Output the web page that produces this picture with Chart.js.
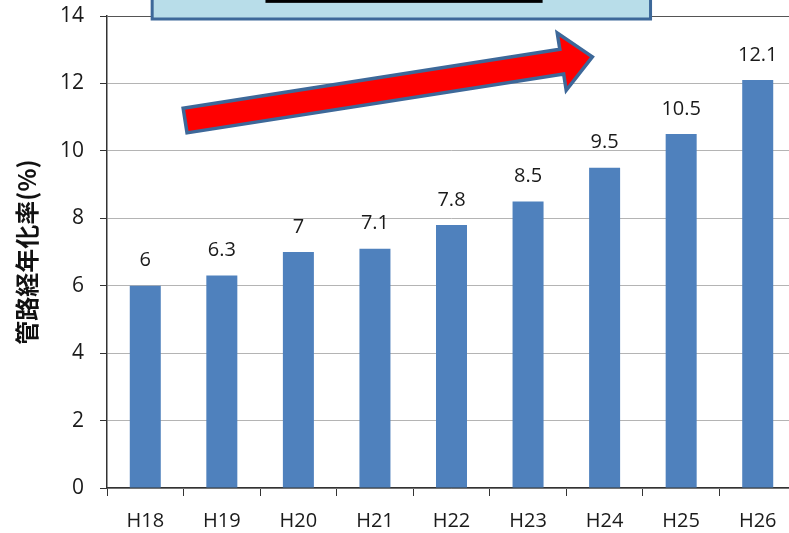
<!DOCTYPE html>
<html><head><meta charset="utf-8">
<script src="https://cdn.jsdelivr.net/npm/chart.js@4"></script>
<style>html,body{margin:0;padding:0;overflow:hidden;background:#fff}
#wrap{position:absolute;left:0;top:0;width:800px;height:533px}</style>
</head><body><div id="wrap"><canvas id="c" width="800" height="533"></canvas></div>
<script>
const categories = ['H18','H19','H20','H21','H22','H23','H24','H25','H26'];
const rates = [6, 6.3, 7, 7.1, 7.8, 8.5, 9.5, 10.5, 12.1];
const rateLabels = ['6','6.3','7','7.1','7.8','8.5','9.5','10.5','12.1'];
const yTickValues = [0, 2, 4, 6, 8, 10, 12, 14];
const yTitle = '管路経年化率(%)';

const TXT = "'Open Sans', 'Noto Sans', sans-serif";

const labelPlugin = {
  id: 'barLabels',
  afterDatasetsDraw(chart) {
    const ctx = chart.ctx;
    const meta = chart.getDatasetMeta(0);
    ctx.save();
    ctx.font = "20px " + TXT;
    ctx.fillStyle = '#1a1a1a';
    ctx.textAlign = 'center';
    ctx.textBaseline = 'middle';
    meta.data.forEach((bar, i) => {
      ctx.fillText(rateLabels[i], bar.x, bar.y - 25);
    });
    ctx.restore();
  }
};

const decoPlugin = {
  id: 'deco',
  afterDraw(chart) {
    const ctx = chart.ctx;
    const xs = chart.scales.x, ys = chart.scales.y;
    ctx.save();
    // cut-off caption box at top
    const bx0 = xs.getPixelForValue(0.09), bx1 = xs.getPixelForValue(6.6);
    const by1 = ys.getPixelForValue(13.91);
    ctx.fillStyle = '#b8dde9';
    ctx.strokeStyle = '#3d6899';
    ctx.lineWidth = 3;
    ctx.beginPath();
    ctx.rect(bx0, -10, bx1 - bx0, by1 + 10);
    ctx.fill(); ctx.stroke();
    ctx.fillStyle = '#000';
    const kx0 = xs.getPixelForValue(1.57), kx1 = xs.getPixelForValue(5.19);
    ctx.fillRect(kx0, -5, kx1 - kx0, ys.getPixelForValue(14.39) + 5);
    // arrow
    const tx = xs.getPixelForValue(0.52), ty = ys.getPixelForValue(10.9);
    const hx = xs.getPixelForValue(5.84), hy = ys.getPixelForValue(12.79);
    const dx = hx - tx, dy = hy - ty, L = Math.hypot(dx, dy);
    const ux = dx / L, uy = dy / L, nx = -uy, ny = ux;
    const sw = 12.5, hw = 29, hl = 31;
    const bxp = hx - ux * hl, byp = hy - uy * hl;
    const pts = [
      [tx + nx * sw, ty + ny * sw],
      [bxp + nx * sw, byp + ny * sw],
      [bxp + nx * hw, byp + ny * hw],
      [hx, hy],
      [bxp - nx * hw, byp - ny * hw],
      [bxp - nx * sw, byp - ny * sw],
      [tx - nx * sw, ty - ny * sw]
    ];
    ctx.beginPath();
    pts.forEach((p, i) => i ? ctx.lineTo(p[0], p[1]) : ctx.moveTo(p[0], p[1]));
    ctx.closePath();
    ctx.fillStyle = '#ff0000';
    ctx.fill();
    ctx.lineJoin = 'miter';
    ctx.lineWidth = 3.5;
    ctx.strokeStyle = '#3d6899';
    ctx.stroke();
    ctx.restore();
  }
};

new Chart(document.getElementById('c'), {
  type: 'bar',
  data: {
    labels: categories,
    datasets: [{
      data: rates,
      backgroundColor: '#4f81bd',
      borderWidth: 0,
      categoryPercentage: 1,
      barPercentage: 0.405
    }]
  },
  options: {
    responsive: false,
    devicePixelRatio: 1,
    animation: false,
    layout: { padding: { left: 0, top: 16, right: 4, bottom: 0 } },
    plugins: { legend: { display: false }, tooltip: { enabled: false } },
    scales: {
      x: {
        grid: { offset: true, drawOnChartArea: false, drawTicks: true, tickLength: 8, color: '#333', tickColor: '#333' },
        border: { color: '#333', width: 1.5 },
        ticks: { color: '#1a1a1a', font: { family: TXT, size: 20 }, padding: 13, maxRotation: 0 },
        afterFit(s) { s.height = 45; s.paddingLeft = 0; s.paddingRight = 0; }
      },
      y: {
        min: 0, max: 14,
        afterBuildTicks(s) { s.ticks = yTickValues.map(v => ({ value: v })); },
        grid: {
          color: (c) => c.tick && c.tick.value === 14 ? '#555' : '#b4b4b4',
          tickColor: '#333', tickLength: 7, lineWidth: 1
        },
        border: { color: '#333', width: 1.5 },
        ticks: { color: '#1a1a1a', font: { family: TXT, size: 21 }, padding: 16 },
        title: {
          display: true, text: yTitle, color: '#111',
          font: { family: "'Noto Sans CJK JP', sans-serif", size: 24, weight: 'bold' },
          padding: { top: 12, bottom: 0 }
        },
        afterFit(s) { s.width = 107; s.paddingTop = 0; s.paddingBottom = 0; }
      }
    }
  },
  plugins: [labelPlugin, decoPlugin]
});
</script></body></html>
